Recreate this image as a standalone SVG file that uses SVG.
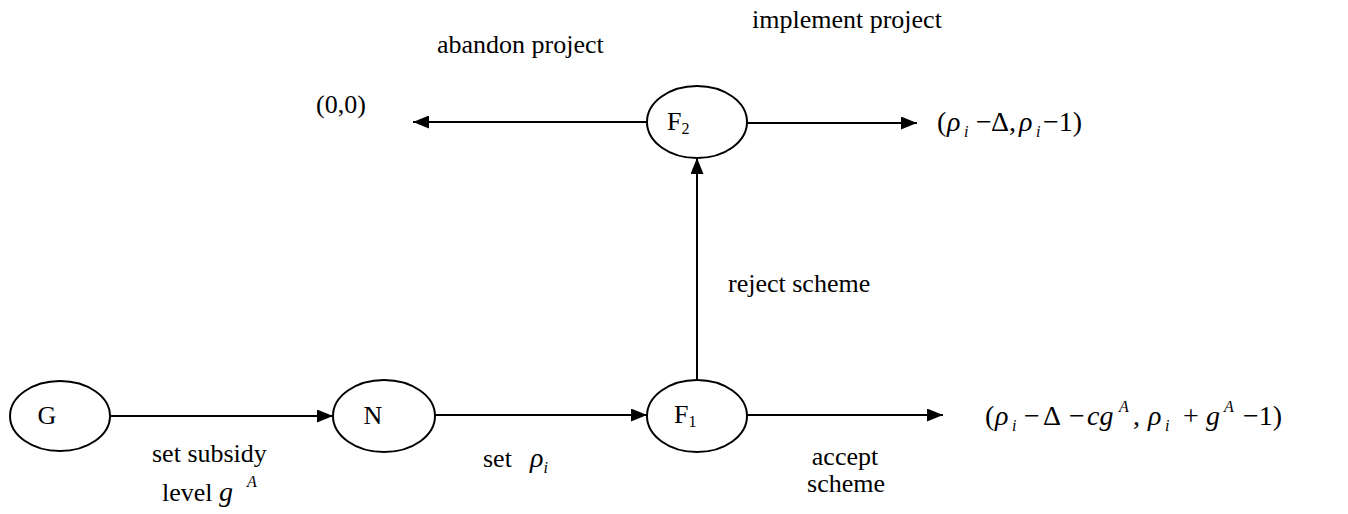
<svg xmlns="http://www.w3.org/2000/svg" width="1348" height="514" viewBox="0 0 1348 514">
<style>
text{font-family:"Liberation Serif","Times New Roman",serif;font-size:26px;fill:#000}
.it{font-style:italic}
.sub{font-size:16px}
.m{font-size:28px}
.node{fill:#fff;stroke:#000;stroke-width:2}
.edge{stroke:#000;stroke-width:2;fill:none;marker-end:url(#arr)}
</style>
<defs>
<marker id="arr" markerUnits="userSpaceOnUse" markerWidth="16" markerHeight="13" refX="16" refY="6.5" orient="auto">
<path d="M0,0 L16,6.5 L0,13 z" fill="#000"/>
</marker>
</defs>
<g id="connectors">
<line class="edge" x1="110" y1="416" x2="333" y2="416"/>
<line class="edge" x1="435" y1="415" x2="647" y2="415"/>
<line class="edge" x1="747" y1="415" x2="943" y2="415"/>
<line class="edge" x1="697" y1="380" x2="697" y2="158"/>
<line class="edge" x1="647" y1="122" x2="413" y2="122"/>
<line class="edge" x1="747" y1="123" x2="917" y2="123"/>
</g>
<g id="node-G">
<ellipse class="node" cx="60" cy="416" rx="50" ry="35"/>
<text x="47" y="424" text-anchor="middle">G</text>
</g>
<g id="node-N">
<ellipse class="node" cx="384" cy="416" rx="51" ry="36"/>
<text x="373" y="424" text-anchor="middle">N</text>
</g>
<g id="node-F1">
<ellipse class="node" cx="697" cy="416" rx="50" ry="36"/>
<text x="674" y="423">F<tspan class="sub" dy="4">1</tspan></text>
</g>
<g id="node-F2">
<ellipse class="node" cx="697" cy="122" rx="50" ry="36"/>
<text x="667" y="130">F<tspan class="sub" dy="4">2</tspan></text>
</g>
<g id="labels">
<text x="752" y="28">implement project</text>
<text x="437" y="53">abandon project</text>
<text x="316" y="113">(0,0)</text>
<text x="728" y="292">reject scheme</text>
<text x="152" y="462">set subsidy</text>
<text x="162" y="501">level <tspan class="it m" x="219">g</tspan><tspan class="it sub" x="247" y="487">A</tspan></text>
<text x="483" y="467">set</text>
<text x="530" y="467" class="it m">ρ<tspan class="sub" dy="6">i</tspan></text>
<text x="845" y="465" text-anchor="middle">accept</text>
<text x="846" y="492" text-anchor="middle">scheme</text>
</g>
<g id="payoffs">
<text y="131" class="m"><tspan x="937">(</tspan><tspan x="947" class="it">ρ</tspan><tspan x="964" y="137" class="it sub">i</tspan><tspan x="976" y="131">−</tspan><tspan x="991">Δ,</tspan><tspan x="1019" class="it">ρ</tspan><tspan x="1036" y="137" class="it sub">i</tspan><tspan x="1043" y="131">−1)</tspan></text>
<text y="425" class="m"><tspan x="985">(</tspan><tspan x="995" class="it">ρ</tspan><tspan x="1012" y="431" class="it sub">i</tspan><tspan x="1024" y="425">−</tspan><tspan x="1043">Δ</tspan><tspan x="1069">−</tspan><tspan x="1087" class="it">cg</tspan><tspan x="1119" y="412" class="it sub">A</tspan><tspan x="1133" y="425">,</tspan><tspan x="1148" class="it">ρ</tspan><tspan x="1165" y="431" class="it sub">i</tspan><tspan x="1183" y="425">+</tspan><tspan x="1206" class="it">g</tspan><tspan x="1224" y="412" class="it sub">A</tspan><tspan x="1243" y="425">−1)</tspan></text>
</g>
</svg>
